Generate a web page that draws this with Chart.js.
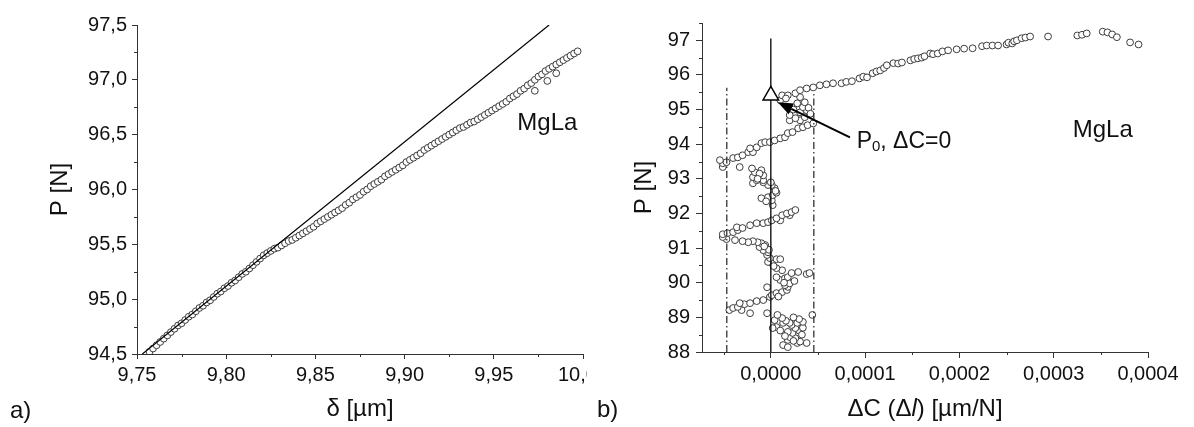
<!DOCTYPE html>
<html>
<head>
<meta charset="utf-8">
<script src="https://cdn.jsdelivr.net/npm/chart.js@4.4.1/dist/chart.umd.min.js"></script>
<style>
  body { margin: 0; background: #fff; width: 1194px; height: 427px; position: relative; overflow: hidden; font-family: "Liberation Sans", Arial, sans-serif; }
  canvas { position: absolute; top: 0; }
  #chart-a { left: 0; }
  #chart-b { left: 588px; }
  .panel-tag { position: absolute; font-size: 24px; line-height: 24px; color: #111; }
</style>
</head>
<body>
<canvas id="chart-a" width="587" height="427"></canvas>
<canvas id="chart-b" width="606" height="427"></canvas>
<div class="panel-tag" style="left:10px; top:398px">a)</div>
<div class="panel-tag" style="left:597px; top:397px">b)</div>
<script>
// ---- panel a: load P vs. displacement delta ----
const deltaA = [
  9.757, 9.759, 9.761, 9.763, 9.765, 9.767, 9.769, 9.771, 9.773, 9.775,
  9.777, 9.779, 9.781, 9.783, 9.785, 9.787, 9.789, 9.791, 9.793, 9.795,
  9.797, 9.799, 9.801, 9.803, 9.805, 9.807, 9.809, 9.811, 9.813, 9.815,
  9.817, 9.819, 9.821, 9.823, 9.825, 9.827, 9.829, 9.831, 9.833, 9.835,
  9.837, 9.839, 9.841, 9.843, 9.845, 9.847, 9.849, 9.851, 9.853, 9.855,
  9.857, 9.859, 9.861, 9.863, 9.865, 9.867, 9.869, 9.871, 9.873, 9.875,
  9.877, 9.879, 9.881, 9.883, 9.885, 9.887, 9.889, 9.891, 9.893, 9.895,
  9.897, 9.899, 9.901, 9.903, 9.905, 9.907, 9.909, 9.911, 9.913, 9.915,
  9.917, 9.919, 9.921, 9.923, 9.925, 9.927, 9.929, 9.931, 9.933, 9.935,
  9.937, 9.939, 9.941, 9.943, 9.945, 9.947, 9.949, 9.951, 9.953, 9.955,
  9.957, 9.959, 9.961, 9.963, 9.965, 9.967, 9.969, 9.971, 9.973, 9.975,
  9.977, 9.979, 9.981, 9.983, 9.985, 9.987, 9.989, 9.991, 9.993, 9.995,
  9.997, 9.973, 9.980, 9.985
];
const forceA = [
  94.52, 94.55, 94.58, 94.61, 94.64, 94.67, 94.70, 94.73, 94.76, 94.78,
  94.81, 94.84, 94.86, 94.89, 94.92, 94.94, 94.97, 94.99, 95.02, 95.05,
  95.07, 95.10, 95.12, 95.15, 95.17, 95.20, 95.23, 95.25, 95.28, 95.31,
  95.34, 95.37, 95.40, 95.42, 95.44, 95.46, 95.47, 95.49, 95.51, 95.53,
  95.54, 95.56, 95.58, 95.60, 95.62, 95.64, 95.66, 95.69, 95.71, 95.73,
  95.75, 95.77, 95.79, 95.81, 95.83, 95.86, 95.88, 95.91, 95.93, 95.95,
  95.98, 96.00, 96.03, 96.05, 96.07, 96.09, 96.12, 96.14, 96.16, 96.18,
  96.20, 96.22, 96.25, 96.27, 96.29, 96.31, 96.33, 96.36, 96.38, 96.40,
  96.42, 96.44, 96.46, 96.48, 96.50, 96.52, 96.54, 96.56, 96.57, 96.59,
  96.61, 96.62, 96.64, 96.66, 96.68, 96.70, 96.72, 96.74, 96.76, 96.78,
  96.80, 96.83, 96.85, 96.87, 96.90, 96.92, 96.95, 96.97, 97.00, 97.03,
  97.05, 97.08, 97.10, 97.12, 97.14, 97.16, 97.18, 97.20, 97.22, 97.24,
  97.26, 96.90, 96.99, 97.06
];
const fitDeltaA = [9.753, 9.981];
const fitForceA = [94.5, 97.5];
const xTicksA = [9.75, 9.80, 9.85, 9.90, 9.95, 10.00];
const xMinorA = [9.775, 9.825, 9.875, 9.925, 9.975];
const yTicksA = [94.5, 95.0, 95.5, 96.0, 96.5, 97.0, 97.5];
const yMinorA = [94.75, 95.25, 95.75, 96.25, 96.75, 97.25];

// ---- panel b: load P vs. compliance change dC (um/N) ----
const dC = [
  13e-6, 18e-6, 28e-6, 38e-6, 31e-6, 18e-6, 26e-6, 20e-6, 23e-6, 18e-6,
  30e-6, 26e-6, 34e-6, 22e-6, 20e-6, 28e-6, 34e-6, 13e-6, 6e-6, 2e-6,
  16e-6, 12e-6, 4e-6, 7e-6, 44e-6, -4e-6, -22e-6, -31e-6, -44e-6, -40e-6,
  -35e-6, -28e-6, -33e-6, -22e-6, -15e-6, -8e-6, -1e-6, 1e-6, 6e-6, 12e-6,
  17e-6, -4e-6, 18e-6, 15e-6, 10e-6, 15e-6, 18e-6, 6e-6, 22e-6, 29e-6,
  38e-6, 41e-6, 12e-6, 6e-6, 1e-6, -3e-6, 6e-6, 10e-6, -1e-6, -4e-6,
  -3e-6, -8e-6, -12e-6, -6e-6, -10e-6, -14e-6, -19e-6, -24e-6, -30e-6, -38e-6,
  -47e-6, -51e-6, -51e-6, -46e-6, -40e-6, -35e-6, -36e-6, -30e-6, -22e-6, -15e-6,
  -8e-6, -3e-6, 1e-6, 10e-6, 6e-6, 12e-6, 20e-6, 17e-6, 22e-6, 26e-6,
  2e-6, 1e-6, -10e-6, -3e-6, 2e-6, 6e-6, 4e-6, 1e-6, -3e-6, -19e-6,
  -8e-6, -15e-6, -8e-6, -19e-6, -8e-6, -17e-6, -10e-6, -20e-6, -33e-6, -51e-6,
  -51e-6, -47e-6, -54e-6, -40e-6, -35e-6, -30e-6, -24e-6, -19e-6, -22e-6, -15e-6,
  -10e-6, -6e-6, -1e-6, 4e-6, 10e-6, 15e-6, 18e-6, 23e-6, 29e-6, 34e-6,
  39e-6, 45e-6, 20e-6, 31e-6, 26e-6, 36e-6, 20e-6, 31e-6, 38e-6, 34e-6,
  28e-6, 36e-6, 10e-6, 31e-6, 12e-6, 18e-6, 26e-6, 31e-6, 38e-6, 45e-6,
  52e-6, 59e-6, 66e-6, 75e-6, 80e-6, 86e-6, 94e-6, 98e-6, 102e-6, 108e-6,
  112e-6, 116e-6, 120e-6, 123e-6, 130e-6, 135e-6, 139e-6, 148e-6, 152e-6, 156e-6,
  160e-6, 163e-6, 169e-6, 172e-6, 177e-6, 182e-6, 188e-6, 197e-6, 205e-6, 214e-6,
  224e-6, 229e-6, 235e-6, 241e-6, 250e-6, 252e-6, 256e-6, 258e-6, 261e-6, 266e-6,
  270e-6, 275e-6, 294e-6, 325e-6, 330e-6, 335e-6, 352e-6, 357e-6, 362e-6, 367e-6,
  381e-6, 390e-6,
  24e-6, 33e-6, 15e-6, 10e-6, 30e-6, 24e-6, 8e-6, 20e-6, 25e-6, 3e-6,
  14e-6, -2e-6, -7e-6, -5e-6, 5e-6, -12e-6, -14e-6, 0, 24e-6, 40e-6,
  16e-6, 42e-6
];
const forceB = [
  88.20, 88.14, 88.26, 88.26, 88.30, 88.35, 88.40, 88.43, 88.55, 88.58,
  88.62, 88.69, 88.70, 88.78, 88.84, 88.84, 88.87, 88.84, 88.72, 88.69,
  88.90, 88.98, 88.92, 89.07, 89.07, 89.12, 89.12, 89.21, 89.21, 89.27,
  89.30, 89.38, 89.41, 89.41, 89.47, 89.50, 89.59, 89.64, 89.70, 89.73,
  89.79, 89.87, 89.88, 89.93, 90.08, 90.13, 90.16, 90.16, 90.28, 90.31,
  90.25, 90.28, 90.36, 90.42, 90.57, 90.60, 90.68, 90.68, 90.71, 90.80,
  90.88, 90.94, 91.03, 91.09, 91.14, 91.17, 91.20, 91.17, 91.20, 91.23,
  91.26, 91.32, 91.40, 91.43, 91.46, 91.52, 91.60, 91.58, 91.66, 91.72,
  91.72, 91.75, 91.80, 91.80, 91.86, 91.95, 91.95, 92.00, 92.04, 92.10,
  92.24, 92.38, 92.44, 92.47, 92.53, 92.60, 92.73, 92.82, 92.82, 92.87,
  92.90, 92.96, 92.96, 93.05, 93.10, 93.19, 93.25, 93.30, 93.34, 93.34,
  93.45, 93.48, 93.54, 93.60, 93.62, 93.68, 93.77, 93.77, 93.88, 93.91,
  94.03, 94.06, 94.06, 94.11, 94.17, 94.20, 94.32, 94.35, 94.46, 94.49,
  94.55, 94.60, 94.69, 94.69, 94.75, 94.78, 94.84, 94.92, 94.98, 95.07,
  95.18, 95.21, 95.27, 95.36, 95.41, 95.41, 95.47, 95.56, 95.61, 95.64,
  95.70, 95.73, 95.76, 95.76, 95.80, 95.82, 95.90, 95.95, 95.93, 96.05,
  96.10, 96.13, 96.20, 96.28, 96.34, 96.33, 96.36, 96.42, 96.46, 96.48,
  96.50, 96.54, 96.62, 96.60, 96.62, 96.68, 96.71, 96.74, 96.76, 96.77,
  96.83, 96.85, 96.85, 96.85, 96.88, 96.93, 96.91, 96.97, 97.00, 97.06,
  97.08, 97.11, 97.11, 97.14, 97.16, 97.20, 97.25, 97.23, 97.17, 97.09,
  96.94, 96.88,
  88.32, 88.50, 88.46, 88.62, 88.95, 89.00, 89.60, 89.98, 90.05, 90.48,
  90.00, 90.95, 91.05, 92.35, 92.65, 93.15, 93.00, 92.90, 95.00, 95.05,
  95.32, 94.88
];
const zeroLineX = [0, 0];
const zeroLineY = [88, 97.05];
const leftBoundX = [-46.7e-6, -46.7e-6];
const leftBoundY = [88, 95.63];
const rightBoundX = [45.6e-6, 45.6e-6];
const rightBoundY = [88, 95.47];
const p0X = [0];
const p0Y = [95.41];
const xTicksB = [0, 0.0001, 0.0002, 0.0003, 0.0004];
const xMinorB = [-0.00005, 0.00005, 0.00015, 0.00025, 0.00035];
const yTicksB = [88, 89, 90, 91, 92, 93, 94, 95, 96, 97];
const yMinorB = [88.5, 89.5, 90.5, 91.5, 92.5, 93.5, 94.5, 95.5, 96.5, 97.5];

const AXIS = '#333';
const INK = '#111';
const FONT = '"Liberation Sans", Arial, sans-serif';

const pts = (xs, ys) => xs.map((x, i) => ({ x: x, y: ys[i] }));
const fixedTicks = values => scale => { scale.ticks = values.map(v => ({ value: v })); };
const comma = digits => v => Number(v).toFixed(digits).replace('.', ',');

// small ticks between the labelled ones
const minorTicks = {
  id: 'minorTicks',
  afterDraw(chart, args, opts) {
    const { ctx, chartArea, scales } = chart;
    ctx.save();
    ctx.strokeStyle = AXIS;
    ctx.lineWidth = 1;
    ctx.beginPath();
    opts.x.forEach(v => {
      const px = Math.round(scales.x.getPixelForValue(v)) + 0.5;
      ctx.moveTo(px, chartArea.bottom);
      ctx.lineTo(px, chartArea.bottom + opts.len);
    });
    opts.y.forEach(v => {
      const py = Math.round(scales.y.getPixelForValue(v)) + 0.5;
      ctx.moveTo(chartArea.left, py);
      ctx.lineTo(chartArea.left - opts.len, py);
    });
    ctx.stroke();
    ctx.restore();
  }
};

function drawParts(ctx, parts, x, y, align) {
  const fontOf = p => (p.italic ? 'italic ' : '') + p.size + 'px ' + FONT;
  let total = 0;
  parts.forEach(p => { ctx.font = fontOf(p); total += ctx.measureText(p.text).width; });
  if (align === 'center') x -= total / 2;
  parts.forEach(p => {
    ctx.font = fontOf(p);
    ctx.fillText(p.text, x, y + (p.dy || 0));
    x += ctx.measureText(p.text).width;
  });
}

// text labels, the arrow and a mixed-style axis title
const notes = {
  id: 'notes',
  afterDraw(chart, args, opts) {
    const { ctx, scales, chartArea } = chart;
    ctx.save();
    if (opts.arrow) {
      const a = opts.arrow;
      const x1 = scales.x.getPixelForValue(a.fromX), y1 = scales.y.getPixelForValue(a.fromY);
      const x2 = scales.x.getPixelForValue(a.toX), y2 = scales.y.getPixelForValue(a.toY);
      const ang = Math.atan2(y2 - y1, x2 - x1);
      const hl = 15, hw = 6;
      const bx = x2 - Math.cos(ang) * hl, by = y2 - Math.sin(ang) * hl;
      ctx.strokeStyle = '#000';
      ctx.fillStyle = '#000';
      ctx.lineWidth = 2;
      ctx.beginPath();
      ctx.moveTo(x1, y1);
      ctx.lineTo(bx, by);
      ctx.stroke();
      ctx.beginPath();
      ctx.moveTo(x2, y2);
      ctx.lineTo(bx + Math.sin(ang) * hw, by - Math.cos(ang) * hw);
      ctx.lineTo(bx - Math.sin(ang) * hw, by + Math.cos(ang) * hw);
      ctx.closePath();
      ctx.fill();
    }
    ctx.fillStyle = INK;
    ctx.textAlign = 'left';
    ctx.textBaseline = 'middle';
    (opts.items || []).forEach(n => {
      drawParts(ctx, n.parts, scales.x.getPixelForValue(n.x), scales.y.getPixelForValue(n.y), n.align);
    });
    if (opts.xTitle) {
      drawParts(ctx, opts.xTitle, (chartArea.left + chartArea.right) / 2, scales.x.bottom - 17.4, 'center');
    }
    ctx.restore();
  }
};

function axis(opts) {
  return {
    type: 'linear',
    min: opts.min,
    max: opts.max,
    afterBuildTicks: fixedTicks(opts.ticks),
    afterFit: s => {
      opts.fit(s);
      // the plot box is set by hand, so labels may hang over its edge
      s.paddingLeft = 0; s.paddingRight = 0; s.paddingTop = 0; s.paddingBottom = 0;
    },
    border: { display: true, color: AXIS, width: 1 },
    grid: { display: true, drawOnChartArea: false, drawTicks: true, tickLength: opts.tickLen, tickColor: AXIS, color: AXIS },
    ticks: {
      color: INK, font: { family: FONT, size: 20 }, padding: opts.pad,
      maxRotation: 0, autoSkip: false, callback: opts.fmt
    },
    title: { display: !!opts.title, text: opts.title || '', color: INK, font: { family: FONT, size: 24 }, padding: opts.titlePad }
  };
}

const circles = {
  pointRadius: 3.4, pointHoverRadius: 3.4, borderWidth: 1,
  borderColor: '#3c3c3c', backgroundColor: '#fff', showLine: false
};

new Chart(document.getElementById('chart-a'), {
  type: 'scatter',
  data: {
    datasets: [
      { type: 'line', data: pts(fitDeltaA, fitForceA), borderColor: '#000', borderWidth: 1.2, pointRadius: 0, fill: false },
      Object.assign({ data: pts(deltaA, forceA) }, circles)
    ]
  },
  options: {
    responsive: false,
    animation: false,
    events: [],
    layout: { autoPadding: false, padding: { left: 0, top: 25, right: 4, bottom: 0 } },
    plugins: {
      legend: { display: false },
      tooltip: { enabled: false },
      minorTicks: { x: xMinorA, y: yMinorA, len: 3 },
      notes: { items: [{ x: 9.980, y: 96.6, align: 'center', parts: [{ text: 'MgLa', size: 24 }] }] }
    },
    scales: {
      x: axis({ min: 9.75, max: 10.0, ticks: xTicksA, fmt: comma(2), tickLen: 5, pad: 4,
                title: 'δ [µm]', titlePad: { top: 0, bottom: 3 }, fit: s => { s.height = 73; } }),
      y: axis({ min: 94.5, max: 97.5, ticks: yTicksA, fmt: comma(1), tickLen: 5, pad: 5,
                title: 'P [N]', titlePad: { top: 46, bottom: 0 }, fit: s => { s.width = 137; } })
    }
  },
  plugins: [minorTicks, notes]
});

new Chart(document.getElementById('chart-b'), {
  type: 'scatter',
  data: {
    datasets: [
      { data: pts(p0X, p0Y), pointStyle: 'triangle', pointRadius: 9, pointHoverRadius: 9, borderWidth: 1.5, borderColor: '#000', backgroundColor: '#fff' },
      { type: 'line', data: pts(zeroLineX, zeroLineY), borderColor: '#000', borderWidth: 1.3, pointRadius: 0, fill: false },
      { type: 'line', data: pts(leftBoundX, leftBoundY), borderColor: '#222', borderWidth: 1.2, borderDash: [7, 3, 1.5, 3], pointRadius: 0, fill: false },
      { type: 'line', data: pts(rightBoundX, rightBoundY), borderColor: '#222', borderWidth: 1.2, borderDash: [7, 3, 1.5, 3], pointRadius: 0, fill: false },
      Object.assign({ data: pts(dC, forceB) }, circles)
    ]
  },
  options: {
    responsive: false,
    animation: false,
    events: [],
    layout: { autoPadding: false, padding: { left: 0, top: 23, right: 46, bottom: 0 } },
    plugins: {
      legend: { display: false },
      tooltip: { enabled: false },
      minorTicks: { x: xMinorB, y: yMinorB, len: 3 },
      notes: {
        arrow: { fromX: 83.9e-6, fromY: 94.2, toX: 7.4e-6, toY: 95.21 },
        items: [
          { x: 91e-6, y: 94.06, parts: [{ text: 'P', size: 23 }, { text: '0', size: 15, dy: 5 }, { text: ', ΔC=0', size: 23 }] },
          { x: 352e-6, y: 94.4, align: 'center', parts: [{ text: 'MgLa', size: 24 }] }
        ],
        xTitle: [{ text: 'ΔC (Δ', size: 24 }, { text: 'l', size: 24, italic: true }, { text: ') [µm/N]', size: 24 }]
      }
    },
    scales: {
      x: axis({ min: -0.000073, max: 0.0004, ticks: xTicksB, fmt: comma(4), tickLen: 6, pad: 4,
                fit: s => { s.height = 75; } }),
      y: axis({ min: 88, max: 97.5, ticks: yTicksB, fmt: v => String(v), tickLen: 6, pad: 6,
                title: 'P [N]', titlePad: { top: 42, bottom: 0 }, fit: s => { s.width = 114; } })
    }
  },
  plugins: [minorTicks, notes]
});
</script>
</body>
</html>
